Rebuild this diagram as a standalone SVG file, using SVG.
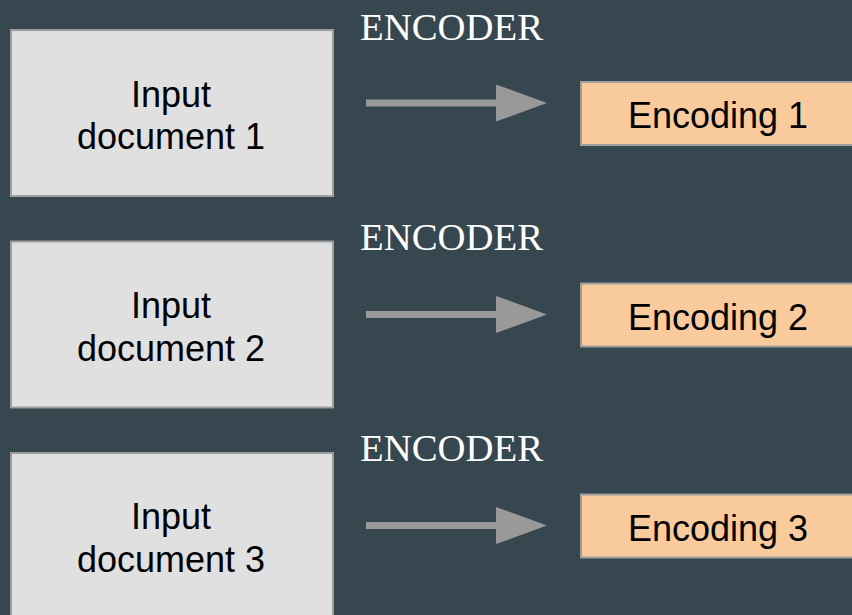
<svg xmlns="http://www.w3.org/2000/svg" width="852" height="615" viewBox="0 0 852 615">
<defs>
<style>
.doc{fill:#e0e0e0;stroke:#9e9e9e;stroke-width:2}
.enc{fill:#f9cb9c;stroke:#9e9e9e;stroke-width:2}
.t{font-family:"Liberation Sans",Arial,sans-serif;font-size:36px;fill:#000;text-anchor:middle}
.lbl{font-family:"Liberation Serif","Times New Roman",serif;font-size:37px;fill:#ffffff}
.arr{stroke:#999999;stroke-width:7;fill:none}
</style>
<marker id="ah" markerUnits="userSpaceOnUse" markerWidth="52" markerHeight="38" refX="0" refY="18.5" orient="auto">
<path d="M0,0 L51,18.5 L0,37 Z" fill="#999999"/>
</marker>
</defs>
<rect x="0" y="0" width="852" height="615" fill="#37474f"/>
<g id="doc1"><rect class="doc" x="11" y="30" width="322" height="166"/><text class="t" x="171" y="106.5">Input</text><text class="t" x="171" y="149">document 1</text></g>
<g id="doc2"><rect class="doc" x="11" y="241.5" width="322" height="166"/><text class="t" x="171" y="318">Input</text><text class="t" x="171" y="360.5">document 2</text></g>
<g id="doc3"><rect class="doc" x="11" y="453" width="322" height="166"/><text class="t" x="171" y="529">Input</text><text class="t" x="171" y="571.5">document 3</text></g>
<g id="enc1"><rect class="enc" x="581" y="82" width="276" height="63"/><text class="t" x="718" y="128">Encoding 1</text></g>
<g id="enc2"><rect class="enc" x="581" y="283.5" width="276" height="63"/><text class="t" x="718" y="330">Encoding 2</text></g>
<g id="enc3"><rect class="enc" x="581" y="494.5" width="276" height="63"/><text class="t" x="718" y="541">Encoding 3</text></g>
<g id="labels">
<text class="lbl" x="360" y="40" textLength="183" lengthAdjust="spacingAndGlyphs">ENCODER</text>
<text class="lbl" x="360" y="250" textLength="183" lengthAdjust="spacingAndGlyphs">ENCODER</text>
<text class="lbl" x="360" y="461" textLength="183" lengthAdjust="spacingAndGlyphs">ENCODER</text>
</g>
<g id="connectors">
<line class="arr" x1="366" y1="103" x2="496" y2="103" marker-end="url(#ah)"/>
<line class="arr" x1="366" y1="314.5" x2="496" y2="314.5" marker-end="url(#ah)"/>
<line class="arr" x1="366" y1="525.5" x2="496" y2="525.5" marker-end="url(#ah)"/>
</g>
</svg>
